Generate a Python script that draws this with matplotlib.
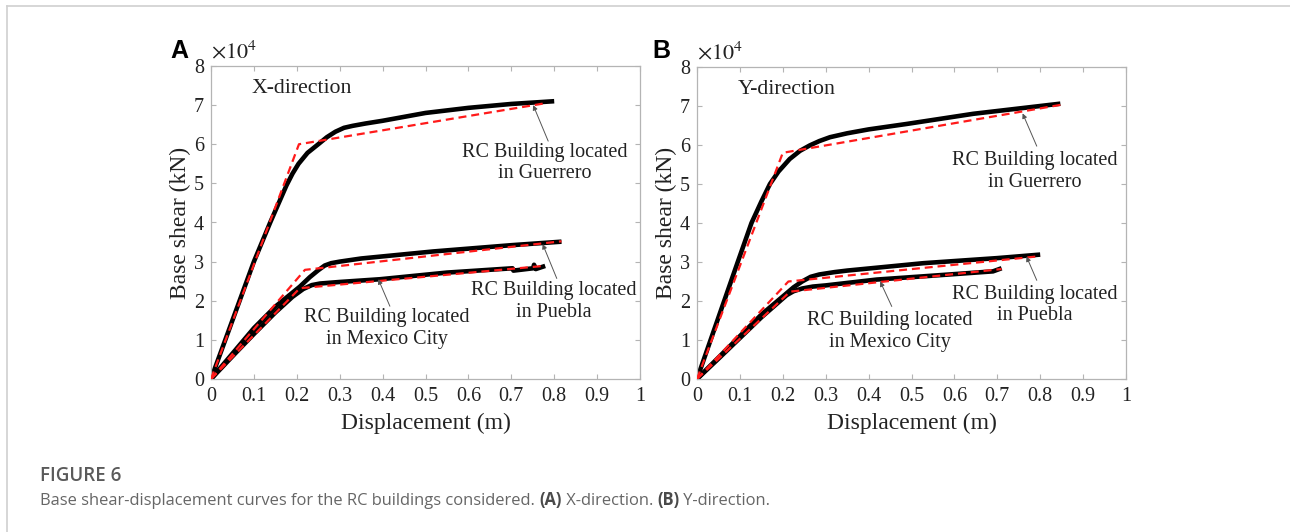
import matplotlib
matplotlib.use("Agg")
import matplotlib.pyplot as plt
from matplotlib.lines import Line2D

plt.rcParams['font.family'] = ['Liberation Serif', 'DejaVu Serif']
plt.rcParams['mathtext.fontset'] = 'stix'

# ---------------- data (displacement in m, base shear in kN) ----------------
xdir_guerrero_d = [0, 0.10, 0.138, 0.158, 0.176, 0.19, 0.204, 0.225, 0.25, 0.27, 0.29, 0.31, 0.33,
                   0.36, 0.40, 0.45, 0.50, 0.60, 0.70, 0.80]
xdir_guerrero_v = [0, 30000, 40000, 45000, 49500, 52500, 55000, 57800, 60000, 61800, 63200, 64200, 64700,
                   65300, 66000, 67000, 68000, 69300, 70300, 71000]
xdir_guerrero_bl_d = [0, 0.205, 0.78]
xdir_guerrero_bl_v = [0, 60000, 70500]

xdir_puebla_d = [0, 0.05, 0.10, 0.15, 0.207, 0.23, 0.25, 0.265, 0.28, 0.30, 0.35, 0.518, 0.70, 0.817]
xdir_puebla_v = [0, 6500, 13000, 18500, 23600, 26000, 27800, 29000, 29600, 30000, 30800, 32600, 34200, 35100]
xdir_puebla_bl_d = [0, 0.219, 0.817]
xdir_puebla_bl_v = [0, 27900, 35200]

xdir_mexico_d = [0, 0.05, 0.10, 0.15, 0.19, 0.215, 0.235, 0.254, 0.30, 0.394, 0.55, 0.703, 0.705,
                 0.751, 0.753, 0.757, 0.779]
xdir_mexico_v = [0, 5800, 11500, 17000, 21000, 23000, 24000, 24400, 24800, 25500, 27200, 28300, 27700,
                 28300, 29200, 28100, 28900]
xdir_mexico_bl_d = [0, 0.207, 0.775]
xdir_mexico_bl_v = [0, 23200, 28900]

ydir_guerrero_d = [0, 0.095, 0.127, 0.15, 0.17, 0.19, 0.216, 0.24, 0.263, 0.285, 0.31, 0.35, 0.40,
                   0.489, 0.644, 0.847]
ydir_guerrero_v = [0, 30000, 40000, 45500, 50000, 53200, 56400, 58500, 59900, 61000, 62000, 63000, 64000,
                   65400, 68000, 70600]
ydir_guerrero_bl_d = [0, 0.20, 0.848]
ydir_guerrero_bl_v = [0, 58000, 70300]

ydir_puebla_d = [0, 0.05, 0.10, 0.15, 0.209, 0.225, 0.245, 0.265, 0.285, 0.32, 0.35, 0.528, 0.70, 0.80]
ydir_puebla_v = [0, 5500, 11000, 16500, 22000, 23500, 25000, 26200, 26800, 27400, 27800, 29700, 31000, 31900]
ydir_puebla_bl_d = [0, 0.213, 0.80]
ydir_puebla_bl_v = [0, 25000, 31500]

ydir_mexico_d = [0, 0.05, 0.10, 0.15, 0.209, 0.225, 0.245, 0.27, 0.30, 0.419, 0.55, 0.69, 0.71]
ydir_mexico_v = [0, 5200, 10500, 15800, 21500, 22500, 23200, 23700, 24000, 25500, 26500, 27600, 28400]
ydir_mexico_bl_d = [0, 0.217, 0.71]
ydir_mexico_bl_v = [0, 22400, 28200]

x_ticks = [0, 0.1, 0.2, 0.3, 0.4, 0.5, 0.6, 0.7, 0.8, 0.9, 1]
x_ticklabels = ['0', '0.1', '0.2', '0.3', '0.4', '0.5', '0.6', '0.7', '0.8', '0.9', '1']
y_ticks = [0, 1, 2, 3, 4, 5, 6, 7, 8]
y_ticklabels = ['0', '1', '2', '3', '4', '5', '6', '7', '8']
SCALE = 1e4

panels = [
    dict(letter='A', direction='X-direction', letter_x=170,
         curves=[(xdir_guerrero_d, xdir_guerrero_v, xdir_guerrero_bl_d, xdir_guerrero_bl_v),
                 (xdir_puebla_d, xdir_puebla_v, xdir_puebla_bl_d, xdir_puebla_bl_v),
                 (xdir_mexico_d, xdir_mexico_v, xdir_mexico_bl_d, xdir_mexico_bl_v)],
         notes=[('RC Building located\nin Guerrero', (0.779, 5.52), (0.786, 6.08), (0.751, 7.0)),
                ('RC Building located\nin Puebla', (0.798, 1.98), (0.806, 2.57), (0.773, 3.45)),
                ('RC Building located\nin Mexico City', (0.41, 1.30), (0.417, 1.86), (0.390, 2.55))]),
    dict(letter='B', direction='Y-direction', letter_x=652,
         curves=[(ydir_guerrero_d, ydir_guerrero_v, ydir_guerrero_bl_d, ydir_guerrero_bl_v),
                 (ydir_puebla_d, ydir_puebla_v, ydir_puebla_bl_d, ydir_puebla_bl_v),
                 (ydir_mexico_d, ydir_mexico_v, ydir_mexico_bl_d, ydir_mexico_bl_v)],
         notes=[('RC Building located\nin Guerrero', (0.788, 5.33), (0.792, 5.97), (0.759, 6.81)),
                ('RC Building located\nin Puebla', (0.788, 1.90), (0.792, 2.53), (0.768, 3.14)),
                ('RC Building located\nin Mexico City', (0.45, 1.22), (0.454, 1.86), (0.427, 2.50))]),
]

W, H = 1290, 532
fig = plt.figure(figsize=(W / 100, H / 100), dpi=100)
fig.patch.set_facecolor('white')

spine_col = '#b4b4b4'
axes_px = [(211, 66, 640, 379), (697, 67, 1126, 379)]

for p, (l, t, r, b) in zip(panels, axes_px):
    ax = fig.add_axes([l / W, (H - b) / H, (r - l) / W, (b - t) / H])
    for d, v, bd, bv in p['curves']:
        ax.plot(d, [x / SCALE for x in v], color='black', lw=3.3, solid_capstyle='butt',
                solid_joinstyle='round', zorder=2)
        ax.plot(bd, [x / SCALE for x in bv], color='#ff1a1a', lw=1.6,
                dashes=(3.6, 2.2), zorder=3)
    ax.set_xlim(0, 1)
    ax.set_ylim(0, 8)
    ax.set_xticks(x_ticks)
    ax.set_xticklabels(x_ticklabels)
    ax.set_yticks(y_ticks)
    ax.set_yticklabels(y_ticklabels)
    ax.tick_params(direction='in', top=True, right=True, length=3.5, width=0.8,
                   color=spine_col, labelsize=14.5, labelcolor='#222222')
    ax.tick_params(axis='x', pad=6)
    ax.tick_params(axis='y', pad=5)
    for s in ax.spines.values():
        s.set_color(spine_col)
        s.set_linewidth(0.9)
    ax.set_xlabel('Displacement (m)', fontsize=17, color='#222222')
    ax.set_ylabel('Base shear (kN)', fontsize=17, color='#222222')
    ax.xaxis.set_label_coords(0.5, -0.108)
    ax.yaxis.set_label_coords(-0.046, 0.5)
    ax.text(0.094, 7.43, p['direction'], fontsize=15.7, ha='left', va='center', color='#222222')
    ax.text(0.0, 1.008, r'$\times10^{4}$', transform=ax.transAxes, fontsize=16,
            ha='left', va='bottom', color='#222222')
    for txt, pos, tail, tip in p['notes']:
        ax.text(pos[0], pos[1], txt, fontsize=14.5, ha='center', va='center',
                linespacing=1.2, color='#222222')
        ax.annotate('', xy=tip, xytext=tail,
                    arrowprops=dict(arrowstyle='-|>', color='#555555', lw=0.7,
                                    mutation_scale=7, shrinkA=0, shrinkB=0))
    fig.text(p['letter_x'] / W, 1 - 58 / H, p['letter'], fontsize=18, fontweight='bold',
             family=['Liberation Sans', 'DejaVu Sans'], ha='left', va='baseline', color='black')

# border lines
fig.add_artist(Line2D([7 / W, 1], [1 - 5.5 / H, 1 - 5.5 / H], transform=fig.transFigure,
                      color='#d0d0d0', lw=1.2))
fig.add_artist(Line2D([7 / W, 7 / W], [0, 1 - 5.5 / H], transform=fig.transFigure,
                      color='#d0d0d0', lw=1.2))

# caption
cap_font = ['Open Sans', 'DejaVu Sans']
fig.text(40 / W, 1 - 481 / H, 'FIGURE 6', fontsize=13.5, fontweight='semibold',
         family=cap_font, color='#5a5a5a', ha='left', va='baseline')

pieces = [('Base shear-displacement curves for the RC buildings considered. ', 'normal'),
          ('(A)', 'bold'), (' X-direction. ', 'normal'), ('(B)', 'bold'), (' Y-direction.', 'normal')]
fig.canvas.draw()
renderer = fig.canvas.get_renderer()
xpix = 40
for s, wgt in pieces:
    t = fig.text(xpix / W, 1 - 505 / H, s, fontsize=11.9, fontweight=wgt, family=cap_font,
                 color='#4a4a4a' if wgt == 'bold' else '#666666', ha='left', va='baseline')
    bb = t.get_window_extent(renderer=renderer)
    xpix += bb.width

fig.savefig('out.png', dpi=100, facecolor='white')
